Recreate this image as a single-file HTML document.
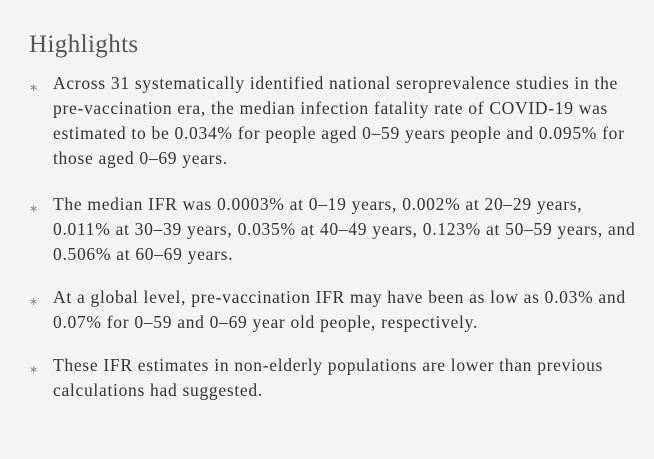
<!DOCTYPE html>
<html><head><meta charset="utf-8"><style>
html,body{margin:0;padding:0;background:#f4f4f4;}
body{width:654px;height:459px;overflow:hidden;font-family:"Liberation Serif",serif;color:#333;position:relative;}
h2{position:absolute;left:29px;top:30px;margin:0;font-weight:normal;font-size:25px;letter-spacing:0.4px;color:#555;line-height:30px;}
.p{position:absolute;left:53px;font-size:17.5px;letter-spacing:0.7px;line-height:25px;white-space:nowrap;}
.b{position:absolute;left:29px;font-size:11px;color:#888;}
</style></head><body>
<h2>Highlights</h2>
<div class="b" style="top:81px">∗</div>
<div class="p" style="top:71px">Across 31 systematically identified national seroprevalence studies in the<br>pre-vaccination era, the median infection fatality rate of COVID-19 was<br>estimated to be 0.034% for people aged 0–59 years people and 0.095% for<br>those aged 0–69 years.</div>
<div class="b" style="top:202px">∗</div>
<div class="p" style="top:192px">The median IFR was 0.0003% at 0–19 years, 0.002% at 20–29 years,<br>0.011% at 30–39 years, 0.035% at 40–49 years, 0.123% at 50–59 years, and<br>0.506% at 60–69 years.</div>
<div class="b" style="top:295px">∗</div>
<div class="p" style="top:285px">At a global level, pre-vaccination IFR may have been as low as 0.03% and<br>0.07% for 0–59 and 0–69 year old people, respectively.</div>
<div class="b" style="top:363px">∗</div>
<div class="p" style="top:353px">These IFR estimates in non-elderly populations are lower than previous<br>calculations had suggested.</div>
</body></html>
